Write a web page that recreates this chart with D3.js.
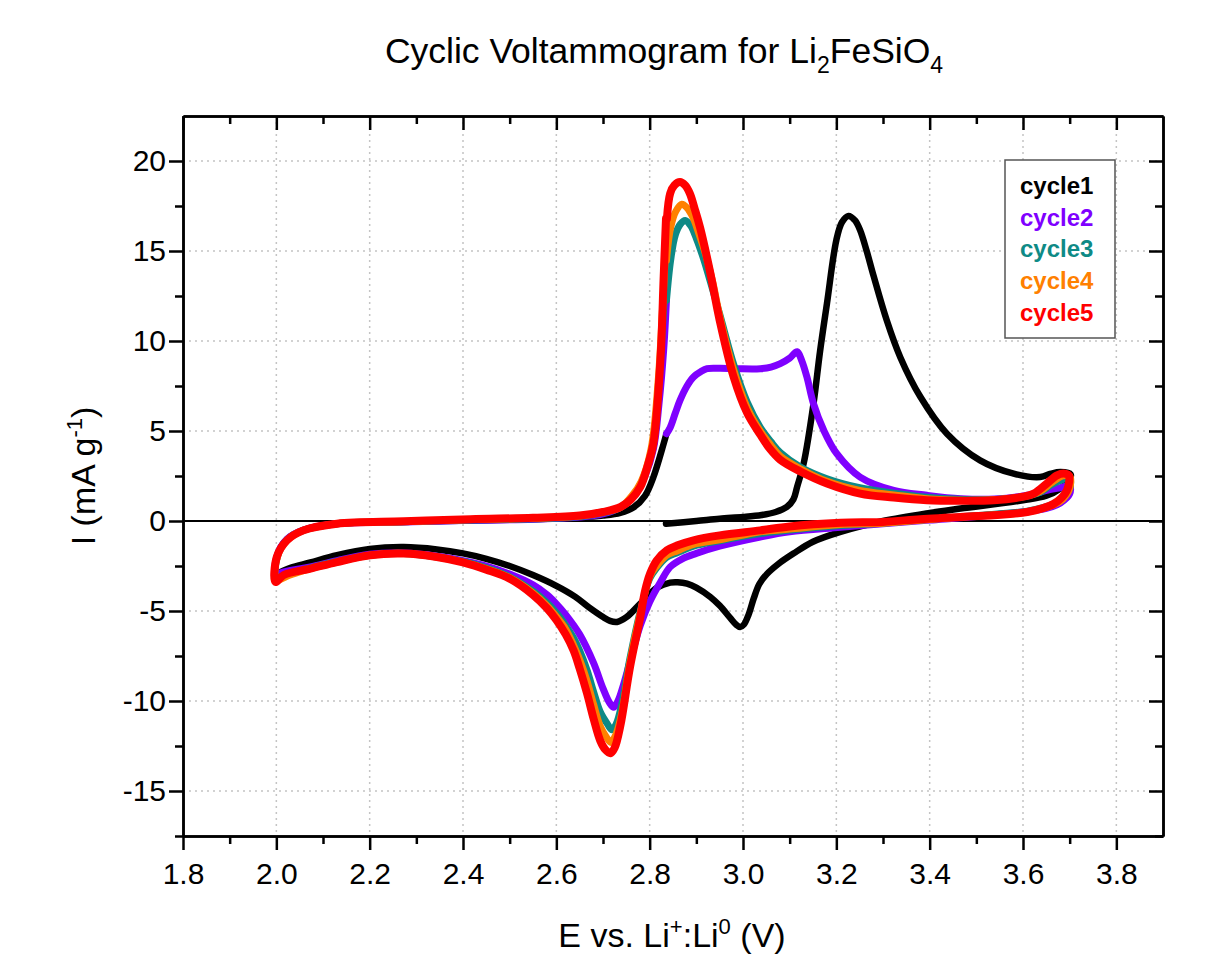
<!DOCTYPE html>
<html>
<head>
<meta charset="utf-8">
<script src="https://cdn.jsdelivr.net/npm/d3@7"></script>
<style>
  body { margin: 0; background: #fff; }
  text { font-family: "Liberation Sans", Arial, sans-serif; }
</style>
</head>
<body>
<div id="chart"></div>
<script>
// tick values
const xMajor = [1.8, 2.0, 2.2, 2.4, 2.6, 2.8, 3.0, 3.2, 3.4, 3.6, 3.8];
const xMinor = [1.9, 2.1, 2.3, 2.5, 2.7, 2.9, 3.1, 3.3, 3.5, 3.7];
const yMajor = [-15, -10, -5, 0, 5, 10, 15, 20];
const yMinor = [-17.5, -12.5, -7.5, -2.5, 2.5, 7.5, 12.5, 17.5];

const seriesNames = ["cycle1", "cycle2", "cycle3", "cycle4", "cycle5"];

// [E (V), I (mA/g)], in scan order
const cycle1 = [
  [2.835,-0.15],[2.9,0.0],[2.95,0.13],[3.0,0.22],[3.04,0.33],[3.07,0.5],[3.094,0.78],[3.108,1.2],
  [3.116,1.9],[3.13,3.2],[3.151,6.5],[3.165,9.4],[3.18,12.1],[3.2,15.6],[3.212,16.6],[3.226,16.95],
  [3.24,16.7],[3.251,16.15],[3.265,15.0],[3.28,13.6],[3.308,11.15],[3.337,9.1],[3.38,6.9],[3.437,4.85],
  [3.508,3.37],[3.58,2.63],[3.637,2.44],[3.66,2.63],[3.68,2.72],[3.702,2.6],
  [3.70,2.3],[3.68,1.8],[3.65,1.4],[3.6,1.15],[3.466,0.69],[3.4,0.45],[3.3,0.0],[3.209,-0.6],
  [3.15,-1.15],[3.108,-1.81],[3.075,-2.4],[3.051,-2.95],[3.035,-3.5],[3.023,-4.3],[3.012,-5.2],
  [3.002,-5.75],[2.994,-5.89],[2.985,-5.75],[2.973,-5.4],[2.95,-4.7],[2.93,-4.22],[2.9,-3.7],
  [2.88,-3.48],[2.86,-3.4],[2.844,-3.42],[2.816,-3.7],[2.78,-4.59],[2.751,-5.33],[2.73,-5.61],
  [2.715,-5.55],[2.701,-5.35],[2.67,-4.8],[2.64,-4.2],[2.6,-3.6],[2.55,-3.0],[2.5,-2.5],
  [2.45,-2.1],[2.4,-1.8],[2.344,-1.58],[2.273,-1.45],[2.2,-1.55],[2.13,-1.9],
  [2.073,-2.3],[2.03,-2.6],[2.0,-2.85],
  [2.002,-1.9],[2.023,-1.0],[2.058,-0.5],[2.13,-0.15],[2.27,-0.05],[2.42,0.03],[2.55,0.1],
  [2.65,0.2],[2.70,0.3],[2.737,0.45],[2.765,0.75],[2.79,1.4],[2.808,2.44],[2.83,4.3],[2.836,4.85]
];

const cycle2 = [
  [2.836,4.85],[2.844,5.2],[2.855,6.0],[2.865,6.7],[2.88,7.5],[2.894,8.0],[2.91,8.3],[2.923,8.46],
  [2.95,8.48],[2.987,8.46],[3.037,8.46],[3.06,8.55],[3.08,8.74],[3.1,9.05],[3.116,9.4],[3.126,8.9],
  [3.137,8.0],[3.151,6.52],[3.173,5.04],[3.201,3.74],[3.251,2.44],[3.323,1.7],[3.394,1.43],
  [3.466,1.24],[3.54,1.22],[3.609,1.43],[3.651,1.7],[3.68,1.85],[3.70,1.95],
  [3.70,1.5],[3.68,1.0],[3.65,0.7],[3.6,0.5],[3.5,0.25],[3.4,0.05],[3.3,-0.15],[3.209,-0.35],
  [3.1,-0.6],[3.037,-0.89],[2.95,-1.4],[2.9,-1.8],[2.87,-2.1],[2.844,-2.55],[2.823,-3.4],[2.8,-4.5],
  [2.78,-5.8],[2.76,-7.6],[2.745,-9.0],[2.732,-10.0],[2.723,-10.35],[2.714,-10.1],[2.70,-9.3],
  [2.68,-7.9],[2.65,-6.3],[2.62,-5.2],[2.6,-4.6],[2.58,-4.1],[2.55,-3.55],[2.5,-2.95],[2.45,-2.5],
  [2.4,-2.2],[2.344,-1.95],[2.273,-1.78],[2.2,-1.85],[2.13,-2.2],[2.073,-2.55],[2.03,-2.75],[2.0,-2.85],
  [2.002,-1.9],[2.023,-1.0],[2.058,-0.5],[2.13,-0.15],[2.27,-0.05],[2.42,0.04],[2.55,0.1],
  [2.65,0.22],[2.70,0.4],[2.737,0.75],[2.77,1.5],[2.79,2.5],[2.808,4.0],[2.82,6.5],[2.83,9.5],
  [2.836,12.26]
];

const cycle3 = [
  [2.836,12.26],[2.845,14.5],[2.855,15.9],[2.866,16.5],[2.876,16.7],[2.888,16.4],[2.9,15.7],
  [2.915,14.6],[2.93,13.3],[2.95,11.5],[2.98,8.7],[3.009,6.6],[3.037,5.2],[3.06,4.4],[3.08,3.8],
  [3.123,3.0],[3.18,2.35],[3.25,1.85],[3.323,1.55],[3.4,1.3],[3.5,1.18],[3.6,1.35],[3.637,1.6],
  [3.66,2.0],[3.685,2.3],[3.70,2.35],
  [3.70,1.8],[3.685,1.3],[3.666,0.95],[3.609,0.55],[3.5,0.3],[3.4,0.1],[3.3,-0.12],[3.209,-0.25],
  [3.1,-0.5],[3.037,-0.7],[2.95,-1.1],[2.894,-1.4],[2.86,-1.75],[2.837,-2.0],[2.815,-2.6],[2.8,-3.2],
  [2.78,-5.0],[2.758,-7.6],[2.74,-10.2],[2.728,-11.3],[2.719,-11.6],[2.71,-11.3],[2.694,-10.6],
  [2.68,-9.5],[2.666,-8.3],[2.65,-7.2],[2.637,-6.5],[2.62,-5.8],[2.6,-5.1],[2.58,-4.55],
  [2.55,-3.9],[2.5,-3.1],[2.45,-2.6],[2.4,-2.25],[2.344,-2.0],[2.273,-1.8],[2.2,-1.9],
  [2.13,-2.25],[2.073,-2.6],[2.03,-2.9],[2.0,-3.1],
  [2.002,-2.0],[2.023,-1.05],[2.058,-0.52],[2.13,-0.15],[2.27,-0.04],[2.42,0.06],[2.55,0.12],
  [2.65,0.25],[2.70,0.45],[2.737,0.75],[2.765,1.4],[2.785,2.3],[2.805,3.9],[2.818,7.0],
  [2.828,11.0],[2.836,14.48]
];

const cycle4 = [
  [2.836,14.48],[2.845,16.3],[2.856,17.2],[2.869,17.6],[2.88,17.4],[2.892,16.9],[2.905,16.0],
  [2.92,14.8],[2.935,13.3],[2.95,11.4],[2.98,8.4],[3.009,6.3],[3.037,5.0],[3.06,4.2],[3.08,3.6],
  [3.123,2.9],[3.18,2.2],[3.25,1.7],[3.323,1.45],[3.4,1.22],[3.5,1.15],[3.6,1.35],[3.637,1.65],
  [3.66,2.1],[3.685,2.5],[3.70,2.5],
  [3.70,1.8],[3.685,1.2],[3.666,0.9],[3.609,0.5],[3.5,0.28],[3.4,0.08],[3.3,-0.12],[3.209,-0.2],
  [3.1,-0.45],[3.037,-0.6],[2.95,-1.05],[2.894,-1.3],[2.86,-1.65],[2.837,-1.9],[2.815,-2.5],
  [2.8,-3.1],[2.78,-5.1],[2.758,-7.8],[2.74,-10.7],[2.727,-11.9],[2.717,-12.3],[2.707,-12.0],
  [2.694,-11.4],[2.68,-10.2],[2.666,-8.9],[2.65,-7.7],[2.637,-6.9],[2.62,-6.0],[2.6,-5.3],
  [2.58,-4.7],[2.55,-4.0],[2.5,-3.15],[2.45,-2.65],[2.4,-2.28],[2.344,-2.0],[2.273,-1.8],
  [2.2,-1.9],[2.13,-2.28],[2.073,-2.65],[2.03,-3.0],[2.0,-3.25],
  [2.002,-2.0],[2.023,-1.07],[2.058,-0.52],[2.13,-0.15],[2.27,-0.04],[2.42,0.08],[2.55,0.15],
  [2.65,0.28],[2.70,0.5],[2.737,0.75],[2.762,1.4],[2.782,2.2],[2.803,4.0],[2.818,7.7],[2.828,12.0],
  [2.834,15.0],[2.837,16.8]
];

const cycle5 = [
  [2.837,16.8],[2.844,18.2],[2.853,18.65],[2.865,18.83],[2.876,18.65],[2.886,18.2],[2.897,17.3],
  [2.908,16.3],[2.929,13.9],[2.95,11.15],[2.98,8.0],[3.009,6.0],[3.037,4.8],[3.058,4.0],[3.08,3.4],
  [3.123,2.75],[3.18,2.08],[3.251,1.52],[3.323,1.3],[3.394,1.15],[3.466,1.12],[3.537,1.15],
  [3.6,1.35],[3.623,1.52],[3.651,2.08],[3.673,2.54],[3.69,2.63],[3.698,2.54],
  [3.694,1.7],[3.666,0.96],[3.609,0.5],[3.466,0.22],[3.38,0.1],[3.3,-0.05],[3.209,-0.1],[3.1,-0.3],
  [3.037,-0.52],[2.95,-0.8],[2.894,-1.07],[2.86,-1.35],[2.837,-1.63],[2.815,-2.2],[2.801,-2.92],
  [2.79,-3.9],[2.78,-5.33],[2.758,-8.1],[2.737,-11.4],[2.725,-12.6],[2.716,-12.9],[2.705,-12.7],
  [2.694,-12.2],[2.68,-11.0],[2.666,-9.6],[2.65,-8.2],[2.637,-7.2],[2.62,-6.3],[2.6,-5.5],
  [2.58,-4.85],[2.55,-4.1],[2.5,-3.2],[2.45,-2.7],[2.4,-2.3],[2.344,-2.0],[2.273,-1.81],
  [2.201,-1.9],[2.13,-2.28],[2.073,-2.65],[2.016,-3.0],[1.998,-3.39],
  [2.001,-2.0],[2.023,-1.07],[2.058,-0.52],[2.13,-0.15],[2.273,-0.02],[2.416,0.1],[2.55,0.18],
  [2.65,0.3],[2.70,0.5],[2.738,0.78],[2.76,1.2],[2.78,1.89],[2.795,3.0],[2.808,4.3],
  [2.823,8.93],[2.83,13.56],[2.835,16.8]
];

const cycles = [cycle1, cycle2, cycle3, cycle4, cycle5];
const colors = ["#000000", "#7f00ff", "#0e8a86", "#ff8000", "#ff0000"];
const widths = [6.5, 7, 7, 7, 8];

// Dimensioonid
const width = 1215, height = 954;
const marginLeft = 183, marginTop = 116, plotW = 980, plotH = 720;

const svg = d3.select("#chart")
  .append("svg")
  .attr("width", width)
  .attr("height", height);

const x = d3.scaleLinear().domain([1.8, 3.9]).range([marginLeft, marginLeft + plotW]);
const y = d3.scaleLinear().domain([-17.5, 22.5]).range([marginTop + plotH, marginTop]);

// grid
const grid = svg.append("g")
  .attr("stroke", "#c4c4c4")
  .attr("stroke-width", 1.5)
  .attr("stroke-dasharray", "2,4");
grid.selectAll(".vg")
  .data(xMajor.filter(v => v > 1.8))
  .enter().append("line")
  .attr("x1", d => x(d)).attr("x2", d => x(d))
  .attr("y1", marginTop).attr("y2", marginTop + plotH);
grid.selectAll(".hg")
  .data(yMajor.filter(v => v !== 0))
  .enter().append("line")
  .attr("x1", marginLeft).attr("x2", marginLeft + plotW)
  .attr("y1", d => y(d)).attr("y2", d => y(d));

// zero line
svg.append("line")
  .attr("x1", marginLeft).attr("x2", marginLeft + plotW)
  .attr("y1", y(0)).attr("y2", y(0))
  .attr("stroke", "#000")
  .attr("stroke-width", 2);

// curves
const line = d3.line()
  .x(d => x(d[0]))
  .y(d => y(d[1]))
  .curve(d3.curveCatmullRom.alpha(0.5));

cycles.forEach((c, i) => {
  svg.append("path")
    .datum(c)
    .attr("d", line)
    .attr("fill", "none")
    .attr("stroke", colors[i])
    .attr("stroke-width", widths[i])
    .attr("stroke-linejoin", "round")
    .attr("stroke-linecap", "round");
});

// Teljed
function styleAxis(g) {
  g.selectAll("path").attr("stroke", "#000").attr("stroke-width", 2.5);
  g.selectAll("line").attr("stroke", "#000").attr("stroke-width", 2.5);
  g.selectAll("text").attr("fill", "#000").style("font-size", "30px")
    .style("font-family", "'Liberation Sans', Arial, sans-serif");
}

const bottomY = marginTop + plotH, rightX = marginLeft + plotW;

svg.append("g")
  .attr("transform", `translate(0,${bottomY})`)
  .call(d3.axisBottom(x).tickValues(xMajor).tickSize(14).tickSizeOuter(0).tickPadding(13)
    .tickFormat(d3.format(".1f")))
  .call(styleAxis);
svg.append("g")
  .attr("transform", `translate(0,${bottomY})`)
  .call(d3.axisBottom(x).tickValues(xMinor).tickSize(8).tickSizeOuter(0).tickFormat(""))
  .call(styleAxis);

svg.append("g")
  .attr("transform", `translate(${marginLeft},0)`)
  .call(d3.axisLeft(y).tickValues(yMajor).tickSize(14).tickSizeOuter(0).tickPadding(3)
    .tickFormat(d => String(d)))
  .call(styleAxis);
svg.append("g")
  .attr("transform", `translate(${marginLeft},0)`)
  .call(d3.axisLeft(y).tickValues(yMinor).tickSize(8).tickSizeOuter(0).tickFormat(""))
  .call(styleAxis);

// top and right, ticks inward
svg.append("g")
  .attr("transform", `translate(0,${marginTop})`)
  .call(d3.axisTop(x).tickValues(xMajor).tickSize(-14).tickSizeOuter(0).tickFormat(""))
  .call(styleAxis);
svg.append("g")
  .attr("transform", `translate(0,${marginTop})`)
  .call(d3.axisTop(x).tickValues(xMinor).tickSize(-8).tickSizeOuter(0).tickFormat(""))
  .call(styleAxis);
svg.append("g")
  .attr("transform", `translate(${rightX},0)`)
  .call(d3.axisRight(y).tickValues(yMajor).tickSize(-14).tickSizeOuter(0).tickFormat(""))
  .call(styleAxis);
svg.append("g")
  .attr("transform", `translate(${rightX},0)`)
  .call(d3.axisRight(y).tickValues(yMinor).tickSize(-8).tickSizeOuter(0).tickFormat(""))
  .call(styleAxis);

// title
const title = svg.append("text")
  .attr("x", 664).attr("y", 63)
  .attr("text-anchor", "middle")
  .style("font-size", "35.5px");
title.append("tspan").text("Cyclic Voltammogram for Li");
title.append("tspan").attr("dy", 10).style("font-size", "23px").text("2");
title.append("tspan").attr("dy", -10).text("FeSiO");
title.append("tspan").attr("dy", 10).style("font-size", "23px").text("4");

// x label
const xl = svg.append("text")
  .attr("x", 672).attr("y", 947)
  .attr("text-anchor", "middle")
  .style("font-size", "34px");
xl.append("tspan").text("E vs. Li");
xl.append("tspan").attr("dy", -13).style("font-size", "22px").text("+");
xl.append("tspan").attr("dy", 13).text(":Li");
xl.append("tspan").attr("dy", -13).style("font-size", "22px").text("0");
xl.append("tspan").attr("dy", 13).text(" (V)");

// y label
const yl = svg.append("text")
  .attr("transform", "translate(95,476) rotate(-90)")
  .attr("text-anchor", "middle")
  .style("font-size", "34px");
yl.append("tspan").text("I (mA g");
yl.append("tspan").attr("dy", -13).style("font-size", "22px").text("-1");
yl.append("tspan").attr("dy", 13).text(")");

// legend
const legend = svg.append("g");
legend.append("rect")
  .attr("x", 1005).attr("y", 160)
  .attr("width", 110).attr("height", 178)
  .attr("fill", "#fff")
  .attr("stroke", "#555")
  .attr("stroke-width", 1.5);
legend.selectAll("text")
  .data(seriesNames)
  .enter().append("text")
  .attr("x", 1020)
  .attr("y", (d, i) => 194 + i * 31.7)
  .attr("fill", (d, i) => colors[i])
  .style("font-size", "24px")
  .style("font-weight", "bold")
  .text(d => d);
</script>
</body>
</html>
